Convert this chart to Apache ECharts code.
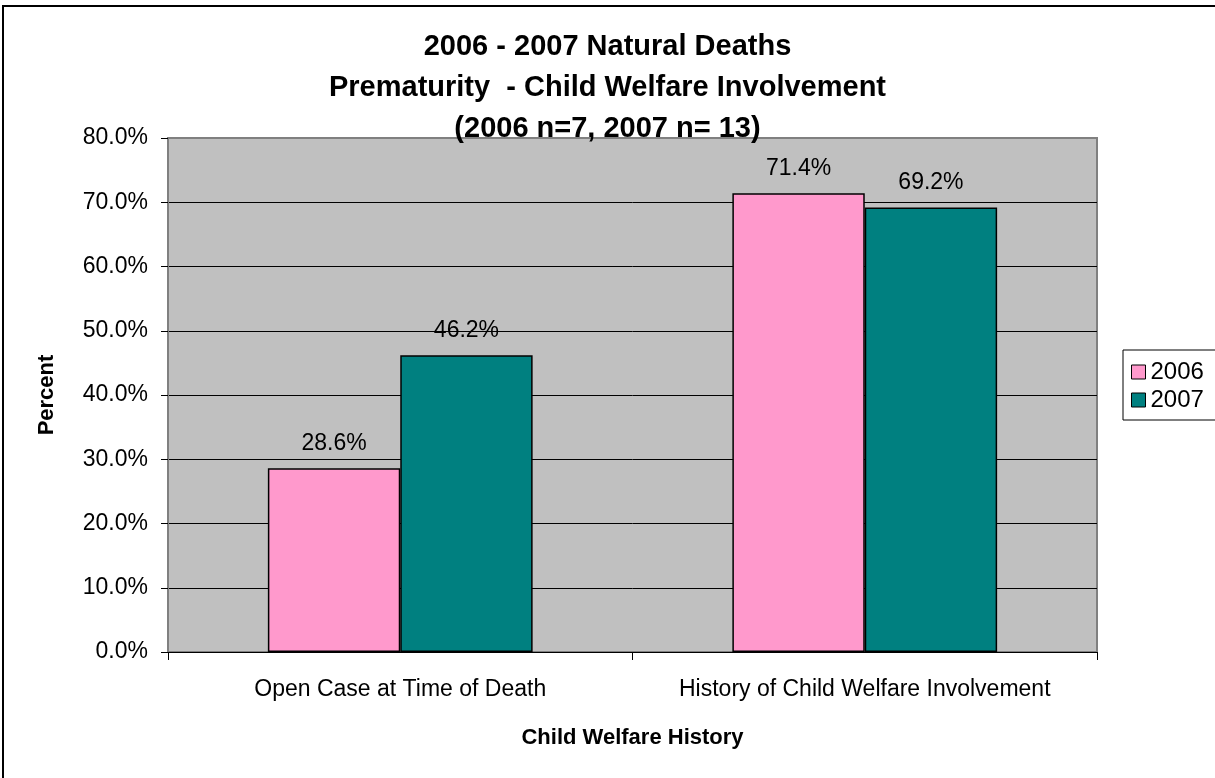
<!DOCTYPE html>
<html>
<head>
<meta charset="utf-8">
<script src="https://cdn.jsdelivr.net/npm/echarts@6/dist/echarts.min.js"></script>
<style>
  html, body { margin: 0; padding: 0; background: #fff; }
  #chart { width: 1215px; height: 778px; }
</style>
</head>
<body>
<div id="chart"></div>
<script>
// chart data
const categories = ['Open Case at Time of Death', 'History of Child Welfare Involvement'];
const years = ['2006', '2007'];
const values2006 = [28.6, 71.4];
const values2007 = [46.2, 69.2];
const yTicks = [0, 10, 20, 30, 40, 50, 60, 70, 80];

const font = 'Arial, "Liberation Sans", sans-serif';

const chart = echarts.init(document.getElementById('chart'));

const barSeries = (name, data, color) => ({
  name: name,
  type: 'bar',
  data: data,
  barGap: '0%',
  barCategoryGap: '43%',
  itemStyle: { color: color, borderColor: '#000', borderWidth: 1.5 },
  label: {
    show: true,
    position: 'top',
    distance: 13,
    formatter: p => p.value.toFixed(1) + '%',
    fontFamily: font,
    fontSize: 23,
    color: '#000'
  },
  emphasis: { disabled: true }
});

chart.setOption({
  animation: false,
  backgroundColor: '#fff',
  title: {
    text: '2006 - 2007 Natural Deaths\nPrematurity  - Child Welfare Involvement\n(2006 n=7, 2007 n= 13)',
    left: 'center',
    top: 21,
    textStyle: {
      fontFamily: font,
      fontSize: 29,
      fontWeight: 'bold',
      color: '#000',
      lineHeight: 41
    }
  },
  legend: {
    orient: 'vertical',
    left: 1123,
    top: 350,
    padding: [10, 20, 8, 8],
    itemWidth: 14,
    itemHeight: 14,
    itemGap: 4,
    borderColor: '#000',
    borderWidth: 1,
    icon: 'rect',
    itemStyle: { borderColor: '#000', borderWidth: 1 },
    textStyle: { fontFamily: font, fontSize: 24, color: '#000' },
    data: years
  },
  grid: {
    left: 168,
    right: 118,
    top: 138,
    bottom: 126,
    show: true,
    backgroundColor: '#C0C0C0',
    borderColor: '#808080',
    borderWidth: 2
  },
  xAxis: {
    type: 'category',
    data: categories,
    name: 'Child Welfare History',
    nameLocation: 'middle',
    nameGap: 75,
    nameTextStyle: { fontFamily: font, fontSize: 22, fontWeight: 'bold', color: '#000' },
    axisLine: { lineStyle: { color: '#000', width: 1 } },
    axisTick: { show: true, interval: 0, length: 8, lineStyle: { color: '#000' } },
    axisLabel: { interval: 0, fontFamily: font, fontSize: 23, color: '#000', margin: 26 }
  },
  yAxis: {
    type: 'value',
    min: 0,
    max: 80,
    interval: 10,
    name: 'Percent',
    nameLocation: 'middle',
    nameGap: 110,
    nameTextStyle: { fontFamily: font, fontSize: 22, fontWeight: 'bold', color: '#000' },
    axisLine: { show: true, lineStyle: { color: '#808080', width: 2 } },
    axisTick: { show: true, length: 7, lineStyle: { color: '#000' } },
    axisLabel: {
      fontFamily: font,
      fontSize: 23,
      color: '#000',
      margin: 20,
      formatter: v => yTicks.includes(v) ? v.toFixed(1) + '%' : ''
    },
    splitLine: { show: true, showMinLine: false, showMaxLine: false, lineStyle: { color: '#000', width: 1 } }
  },
  graphic: [{
    type: 'rect',
    shape: { x: 3, y: 6, width: 1240, height: 800 },
    style: { fill: 'none', stroke: '#000', lineWidth: 2 },
    silent: true
  }],
  series: [
    barSeries(years[0], values2006, '#FF99CC'),
    barSeries(years[1], values2007, '#008080')
  ]
});
</script>
</body>
</html>
